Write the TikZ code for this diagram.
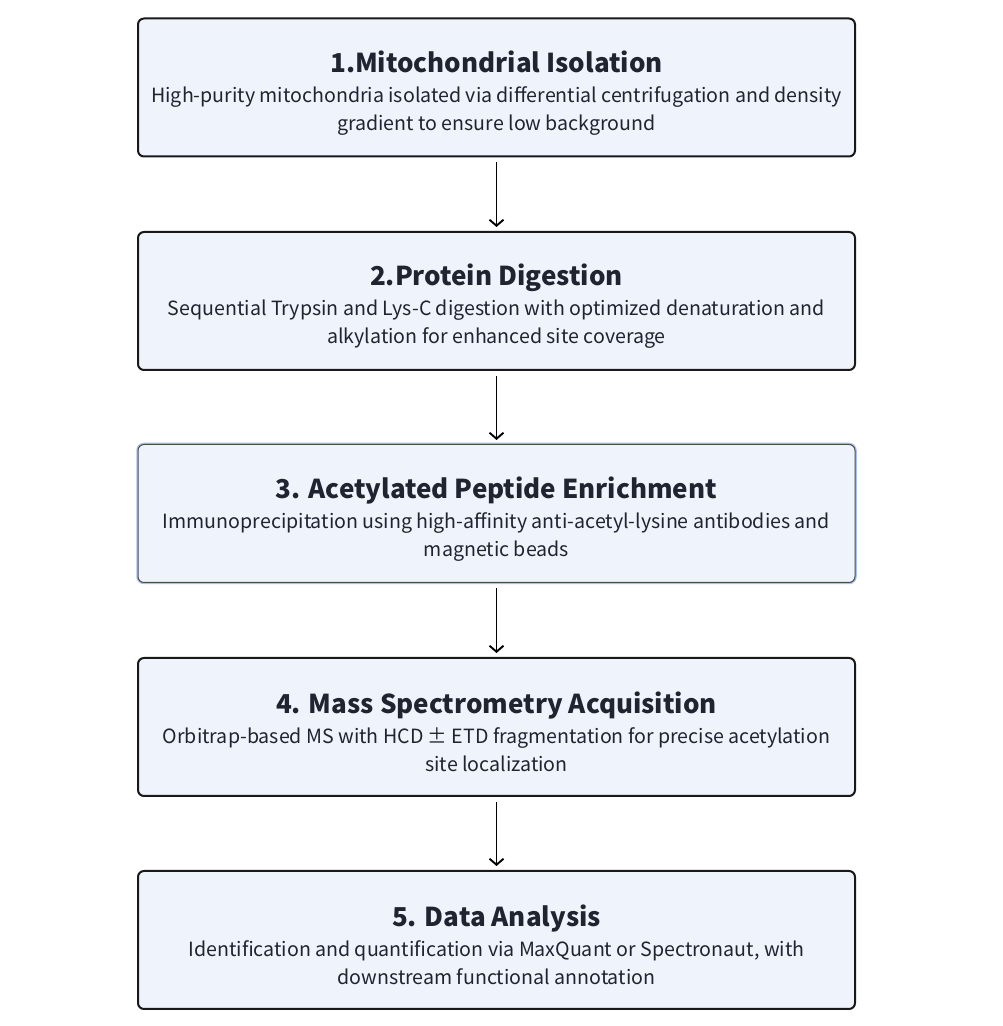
\documentclass[tikz,border=0pt]{standalone}
\usepackage{fontspec}
\setmainfont{Noto Sans CJK SC}
\usetikzlibrary{arrows.meta}
\definecolor{boxfill}{HTML}{EFF3FC}
\definecolor{txt}{HTML}{1F2430}
\definecolor{glow}{HTML}{A9C1EE}
\tikzset{
  stepbox/.style={draw=black!90, line width=2pt, fill=boxfill, rounded corners=6pt,
    minimum width=717pt, minimum height=138pt, inner sep=0pt, text=txt,
    align=center, font=\fontsize{19.6}{28}\selectfont},
  selbox/.style={stepbox, draw=black!70, line width=1pt,
    preaction={draw=glow, line width=3.5pt, rounded corners=6pt}},
  flow/.style={draw=black, line width=1.9pt, -{Straight Barb[length=6pt,width=14pt,line width=1.9pt]},
    shorten <=5pt, shorten >=4pt},
}
\newcommand{\ttl}[1]{{\fontsize{26}{32}\selectfont\bfseries\rule{0pt}{32pt}#1}\\[2pt]}
\begin{document}
\begin{tikzpicture}[x=1pt,y=1pt]
\useasboundingbox (0,0) rectangle (1002,1026);
\node[stepbox] (b1) at (496.5,938.5) {\ttl{1.Mitochondrial Isolation}High-purity mitochondria isolated via differential centrifugation and density\\gradient to ensure low background};
\node[stepbox] (b2) at (496.5,725) {\ttl{2.Protein Digestion}Sequential Trypsin and Lys-C digestion with optimized denaturation and\\alkylation for enhanced site coverage};
\node[selbox] (b3) at (496.5,512.5) {\ttl{3. Acetylated Peptide Enrichment}Immunoprecipitation using high-affinity anti-acetyl-lysine antibodies and\\magnetic beads};
\node[stepbox] (b4) at (496.5,299) {\ttl{4. Mass Spectrometry Acquisition}Orbitrap-based MS with HCD ± ETD fragmentation for precise acetylation\\site localization};
\node[stepbox] (b5) at (496.5,86) {\ttl{5. Data Analysis}Identification and quantification via MaxQuant or Spectronaut, with\\downstream functional annotation};
\draw[flow] (b1.south) -- (b2.north);
\draw[flow] (b2.south) -- (b3.north);
\draw[flow] (b3.south) -- (b4.north);
\draw[flow] (b4.south) -- (b5.north);
\end{tikzpicture}
\end{document}
